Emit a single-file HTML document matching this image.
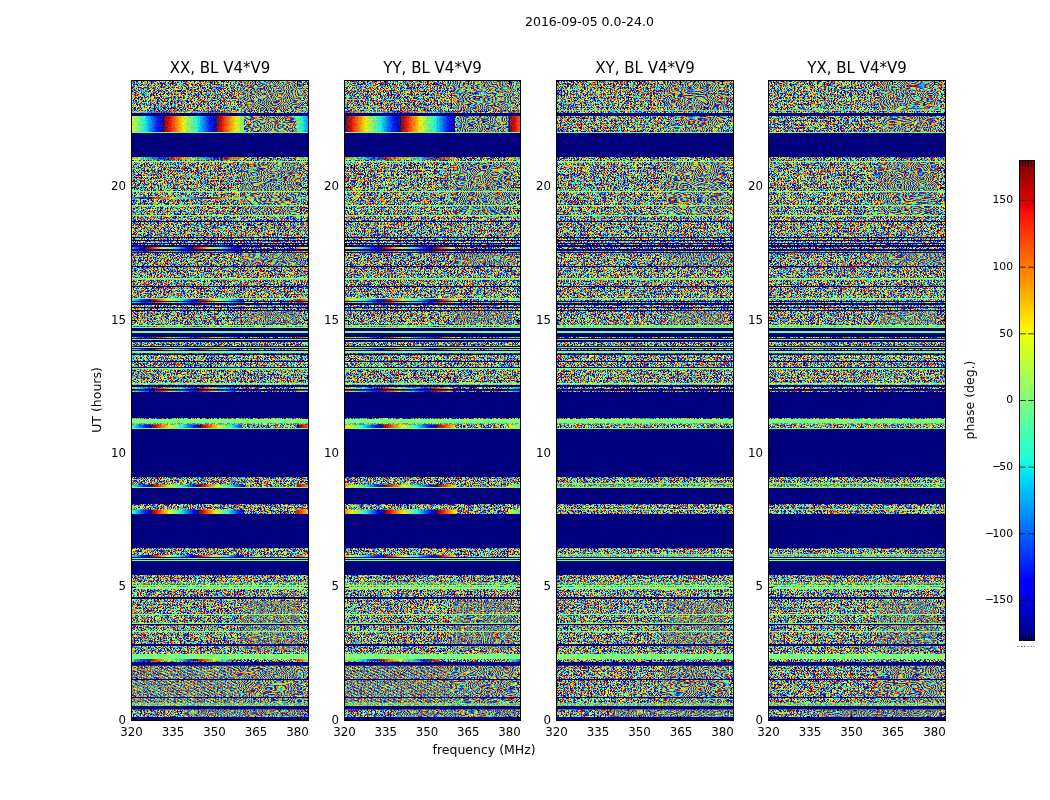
<!DOCTYPE html>
<html><head><meta charset="utf-8"><title>2016-09-05 0.0-24.0</title>
<style>html,body{margin:0;padding:0;background:#fff}svg{display:block;will-change:transform}text{font-family:"DejaVu Sans","Liberation Sans",sans-serif;fill:#000;letter-spacing:0}</style></head>
<body>
<svg width="1050" height="800" viewBox="0 0 1050 800">
<defs>
<filter id="n" x="0" y="0" width="100%" height="100%" filterUnits="objectBoundingBox" color-interpolation-filters="sRGB">
<feTurbulence type="fractalNoise" baseFrequency="1.7" numOctaves="1" seed="3"/>
<feColorMatrix type="matrix" values="1 0 0 0 0 1 0 0 0 0 1 0 0 0 0 0 0 0 0 1"/>
<feComponentTransfer>
<feFuncR type="table" tableValues="0 0 0 0 0 0 0 0 0 0 0 0 0 0 0 0 0 0 0 0 0 0 0 0 0 0 0 0 0 0 0 0 0 0 0 0 0 0 0 0 0 0 0 0 0 0 0 0 0 0 0 0 0 0 0 0 0 0 0 0 0 0 0 0 0 0 0 0 0 0 0 0 0 0 0 0 0 0 0 0 0 0 0 0 0 0 0 0 0 0 0 0 0 0 0 0 0 0 0 0 0 0 0 0 0 0 0 0 0 0 0 0 0 0 0 0 0 0 0.035 0.073 0.111 0.161 0.199 0.237 0.288 0.326 0.364 0.402 0.503 0.617 0.655 0.693 0.743 0.781 0.819 0.87 0.908 0.946 0.984 1 1 1 1 1 1 1 1 1 1 1 1 1 1 1 1 1 1 1 1 1 1 1 0.981 0.946 0.928 0.91 0.874 0.857 0.839 0.821 0.803 0.785 0.75 0.732 0.714 0.696 0.678 0.66 0.643 0.625 0.607 0.589 0.589 0.571 0.553 0.553 0.536 0.536 0.536 0.518 0.518 0.518 0.518 0.5 0.5 0.5 0.5 0.5 0.5 0.5 0.5 0.5 0.5 0.5 0.5 0.5 0.5 0.5 0.5 0.5 0.5 0.5 0.5 0.5 0.5 0.5 0.5 0.5 0.5 0.5 0.5 0.5 0.5 0.5 0.5 0.5 0.5 0.5 0.5 0.5 0.5 0.5 0.5 0.5 0.5 0.5 0.5 0.5 0.5 0.5 0.5 0.5 0.5 0.5 0.5 0.5 0.5 0.5 0.5 0.5 0.5 0.5 0.5 0.5 0.5 0.5"/>
<feFuncG type="table" tableValues="0 0 0 0 0 0 0 0 0 0 0 0 0 0 0 0 0 0 0 0 0 0 0 0 0 0 0 0 0 0 0 0 0 0 0 0 0 0 0 0 0 0 0 0 0 0 0 0 0 0 0 0 0 0 0 0 0 0 0 0 0 0 0 0 0 0 0 0 0 0 0 0 0 0 0 0 0 0 0 0 0 0 0 0 0 0 0 0 0 0 0 0 0 0 0 0 0.002 0.033 0.065 0.096 0.143 0.175 0.222 0.253 0.3 0.331 0.378 0.41 0.457 0.504 0.535 0.582 0.645 0.676 0.739 0.786 0.849 0.896 0.943 0.99 1 1 1 1 1 1 1 1 1 1 1 1 1 1 1 1 1 0.988 0.945 0.887 0.843 0.8 0.741 0.698 0.669 0.625 0.582 0.553 0.509 0.466 0.436 0.407 0.364 0.335 0.291 0.262 0.233 0.19 0.16 0.131 0.102 0.088 0.059 0.03 0.015 0.001 0 0 0 0 0 0 0 0 0 0 0 0 0 0 0 0 0 0 0 0 0 0 0 0 0 0 0 0 0 0 0 0 0 0 0 0 0 0 0 0 0 0 0 0 0 0 0 0 0 0 0 0 0 0 0 0 0 0 0 0 0 0 0 0 0 0 0 0 0 0 0 0 0 0 0 0 0 0 0 0 0 0 0 0 0 0 0 0 0 0"/>
<feFuncB type="table" tableValues="0.5 0.5 0.5 0.5 0.5 0.5 0.5 0.5 0.5 0.5 0.5 0.5 0.5 0.5 0.5 0.5 0.5 0.5 0.5 0.5 0.5 0.5 0.5 0.5 0.5 0.5 0.5 0.5 0.5 0.5 0.5 0.5 0.5 0.5 0.5 0.5 0.5 0.5 0.5 0.5 0.5 0.5 0.5 0.5 0.5 0.5 0.5 0.5 0.5 0.5 0.5 0.5 0.5 0.5 0.5 0.5 0.5 0.5 0.5 0.5 0.5 0.5 0.5 0.5 0.518 0.518 0.518 0.518 0.536 0.536 0.553 0.553 0.571 0.571 0.589 0.607 0.607 0.625 0.643 0.66 0.678 0.696 0.714 0.732 0.767 0.785 0.803 0.821 0.857 0.874 0.892 0.928 0.963 0.981 0.999 1 1 1 1 1 1 1 1 1 1 1 1 1 1 1 1 1 1 1 1 1 1 0.971 0.933 0.895 0.857 0.806 0.769 0.731 0.68 0.642 0.604 0.566 0.465 0.351 0.313 0.275 0.225 0.187 0.149 0.098 0.06 0.022 0 0 0 0 0 0 0 0 0 0 0 0 0 0 0 0 0 0 0 0 0 0 0 0 0 0 0 0 0 0 0 0 0 0 0 0 0 0 0 0 0 0 0 0 0 0 0 0 0 0 0 0 0 0 0 0 0 0 0 0 0 0 0 0 0 0 0 0 0 0 0 0 0 0 0 0 0 0 0 0 0 0 0 0 0 0 0 0 0 0 0 0 0 0 0 0 0 0 0 0 0 0 0 0 0 0 0 0 0 0 0 0 0 0 0 0 0 0"/>
</feComponentTransfer>
</filter>
<filter id="mo" x="0" y="0" width="100%" height="100%" color-interpolation-filters="sRGB">
<feTurbulence type="fractalNoise" baseFrequency="0.045 0.09" numOctaves="1" seed="5"/>
<feColorMatrix type="matrix" values="1 0 0 0 0 1 0 0 0 0 1 0 0 0 0 0 0 0 0 1"/>
<feComponentTransfer>
<feFuncR type="table" tableValues="0 0 0 0 0.29 0.64 1 1 1 0.55 0 0 0 0.24 0.59 0.95 1 1 0.62 0 0 0 0.19 0.54 0.9 1 1 0.7 0 0 0 0.14 0.49 0.84 1 1 0.77 0 0 0 0.09 0.44 0.79 1 1 0.84 0 0 0 0.03 0.39 0.74 1 1 0.91 0 0 0 0 0.34 0.69 1 1 0.98 0 0 0 0 0.29 0.64 1 1 1 0.55 0 0 0 0.24 0.59 0.95 1 1 0.62 0 0 0 0.19 0.54 0.9 1 1 0.7 0 0 0 0.14 0.49 0.84 1 1 0.77 0 0 0 0.09 0.44 0.79 1 1 0.84 0 0 0 0.03 0.39 0.74 1 1 0.91 0 0 0 0 0.34 0.69 1 1 0.98 0 0 0 0 0.29 0.64 1 1 1 0.55 0 0 0 0.24 0.59 0.95 1 1 0.62 0 0 0 0.19 0.54 0.9 1 1 0.7 0 0 0 0.14 0.49 0.84 1 1 0.77 0 0 0 0.09 0.44 0.79 1 1 0.84 0 0 0 0.03 0.39 0.74 1 1 0.91 0 0 0 0 0.34 0.69 1 1 0.98 0 0 0 0 0.29 0.64 1 1 1 0.55 0 0 0 0.24 0.59 0.95 1 1 0.62 0 0 0 0.19 0.54 0.9 1 1 0.7 0 0 0 0.14 0.49 0.84 1 1 0.77 0 0 0 0.09 0.44 0.79 1 1 0.84 0 0 0 0.03 0.39 0.74 1 1 0.91 0 0 0 0 0.34 0.69 1 1 0.98"/>
<feFuncG type="table" tableValues="0 0 0.38 0.82 1 1 0.93 0.52 0.12 0 0 0.32 0.75 1 1 0.99 0.58 0.18 0 0 0.25 0.69 1 1 1 0.64 0.23 0 0 0.19 0.63 1 1 1 0.7 0.29 0 0 0.13 0.57 1 1 1 0.76 0.35 0 0 0.06 0.5 0.94 1 1 0.81 0.41 0 0 0 0.44 0.88 1 1 0.87 0.47 0.06 0 0 0.38 0.82 1 1 0.93 0.52 0.12 0 0 0.32 0.75 1 1 0.99 0.58 0.18 0 0 0.25 0.69 1 1 1 0.64 0.23 0 0 0.19 0.63 1 1 1 0.7 0.29 0 0 0.13 0.57 1 1 1 0.76 0.35 0 0 0.06 0.5 0.94 1 1 0.81 0.41 0 0 0 0.44 0.88 1 1 0.87 0.47 0.06 0 0 0.38 0.82 1 1 0.93 0.52 0.12 0 0 0.32 0.75 1 1 0.99 0.58 0.18 0 0 0.25 0.69 1 1 1 0.64 0.23 0 0 0.19 0.63 1 1 1 0.7 0.29 0 0 0.13 0.57 1 1 1 0.76 0.35 0 0 0.06 0.5 0.94 1 1 0.81 0.41 0 0 0 0.44 0.88 1 1 0.87 0.47 0.06 0 0 0.38 0.82 1 1 0.93 0.52 0.12 0 0 0.32 0.75 1 1 0.99 0.58 0.18 0 0 0.25 0.69 1 1 1 0.64 0.23 0 0 0.19 0.63 1 1 1 0.7 0.29 0 0 0.13 0.57 1 1 1 0.76 0.35 0 0 0.06 0.5 0.94 1 1 0.81 0.41 0 0 0 0.44 0.88 1 1 0.87 0.47 0.06"/>
<feFuncB type="table" tableValues="0.5 1 1 1 0.68 0.33 0 0 0 0 0.93 1 1 0.73 0.38 0.02 0 0 0 0.86 1 1 0.78 0.43 0.07 0 0 0 0.79 1 1 0.83 0.48 0.12 0 0 0 0.71 1 1 0.88 0.53 0.17 0 0 0 0.64 1 1 0.93 0.58 0.22 0 0 0 0.57 1 1 0.98 0.63 0.28 0 0 0 0.5 1 1 1 0.68 0.33 0 0 0 0 0.93 1 1 0.73 0.38 0.02 0 0 0 0.86 1 1 0.78 0.43 0.07 0 0 0 0.79 1 1 0.83 0.48 0.12 0 0 0 0.71 1 1 0.88 0.53 0.17 0 0 0 0.64 1 1 0.93 0.58 0.22 0 0 0 0.57 1 1 0.98 0.63 0.28 0 0 0 0.5 1 1 1 0.68 0.33 0 0 0 0 0.93 1 1 0.73 0.38 0.02 0 0 0 0.86 1 1 0.78 0.43 0.07 0 0 0 0.79 1 1 0.83 0.48 0.12 0 0 0 0.71 1 1 0.88 0.53 0.17 0 0 0 0.64 1 1 0.93 0.58 0.22 0 0 0 0.57 1 1 0.98 0.63 0.28 0 0 0 0.5 1 1 1 0.68 0.33 0 0 0 0 0.93 1 1 0.73 0.38 0.02 0 0 0 0.86 1 1 0.78 0.43 0.07 0 0 0 0.79 1 1 0.83 0.48 0.12 0 0 0 0.71 1 1 0.88 0.53 0.17 0 0 0 0.64 1 1 0.93 0.58 0.22 0 0 0 0.57 1 1 0.98 0.63 0.28 0 0 0"/>
</feComponentTransfer>
</filter>
<linearGradient id="dg" gradientUnits="userSpaceOnUse" spreadMethod="repeat" x1="0" y1="0" x2="1.2" y2="-2.6" href="#fr"/>
<linearGradient id="cb" x1="0" y1="1" x2="0" y2="0"><stop offset="0.0000" stop-color="#000080"/><stop offset="0.0156" stop-color="#000092"/><stop offset="0.0312" stop-color="#0000a4"/><stop offset="0.0469" stop-color="#0000b6"/><stop offset="0.0625" stop-color="#0000c8"/><stop offset="0.0781" stop-color="#0000da"/><stop offset="0.0938" stop-color="#0000ed"/><stop offset="0.1094" stop-color="#0000ff"/><stop offset="0.1250" stop-color="#0000ff"/><stop offset="0.1406" stop-color="#0010ff"/><stop offset="0.1562" stop-color="#0020ff"/><stop offset="0.1719" stop-color="#0030ff"/><stop offset="0.1875" stop-color="#0040ff"/><stop offset="0.2031" stop-color="#0050ff"/><stop offset="0.2188" stop-color="#0060ff"/><stop offset="0.2344" stop-color="#0070ff"/><stop offset="0.2500" stop-color="#0080ff"/><stop offset="0.2656" stop-color="#0090ff"/><stop offset="0.2812" stop-color="#00a0ff"/><stop offset="0.2969" stop-color="#00b0ff"/><stop offset="0.3125" stop-color="#00c0ff"/><stop offset="0.3281" stop-color="#00d0ff"/><stop offset="0.3438" stop-color="#00e0fb"/><stop offset="0.3594" stop-color="#09f0ee"/><stop offset="0.3750" stop-color="#16ffe1"/><stop offset="0.3906" stop-color="#23ffd4"/><stop offset="0.4062" stop-color="#30ffc7"/><stop offset="0.4219" stop-color="#3cffba"/><stop offset="0.4375" stop-color="#49ffad"/><stop offset="0.4531" stop-color="#56ffa0"/><stop offset="0.4688" stop-color="#63ff94"/><stop offset="0.4844" stop-color="#70ff87"/><stop offset="0.5000" stop-color="#7dff7a"/><stop offset="0.5156" stop-color="#8aff6d"/><stop offset="0.5312" stop-color="#97ff60"/><stop offset="0.5469" stop-color="#a4ff53"/><stop offset="0.5625" stop-color="#b1ff46"/><stop offset="0.5781" stop-color="#beff39"/><stop offset="0.5938" stop-color="#caff2c"/><stop offset="0.6094" stop-color="#d7ff1f"/><stop offset="0.6250" stop-color="#e4ff13"/><stop offset="0.6406" stop-color="#f1fc06"/><stop offset="0.6562" stop-color="#feed00"/><stop offset="0.6719" stop-color="#ffde00"/><stop offset="0.6875" stop-color="#ffd000"/><stop offset="0.7031" stop-color="#ffc100"/><stop offset="0.7188" stop-color="#ffb200"/><stop offset="0.7344" stop-color="#ffa300"/><stop offset="0.7500" stop-color="#ff9400"/><stop offset="0.7656" stop-color="#ff8600"/><stop offset="0.7812" stop-color="#ff7700"/><stop offset="0.7969" stop-color="#ff6800"/><stop offset="0.8125" stop-color="#ff5900"/><stop offset="0.8281" stop-color="#ff4a00"/><stop offset="0.8438" stop-color="#ff3b00"/><stop offset="0.8594" stop-color="#ff2d00"/><stop offset="0.8750" stop-color="#ff1e00"/><stop offset="0.8906" stop-color="#fa0f00"/><stop offset="0.9062" stop-color="#e80000"/><stop offset="0.9219" stop-color="#d60000"/><stop offset="0.9375" stop-color="#c40000"/><stop offset="0.9531" stop-color="#b20000"/><stop offset="0.9688" stop-color="#9f0000"/><stop offset="0.9844" stop-color="#8d0000"/><stop offset="1.0000" stop-color="#800000"/></linearGradient>
<linearGradient id="fr" gradientUnits="userSpaceOnUse" spreadMethod="repeat" x1="0" x2="50"><stop offset="0.0000" stop-color="#800000"/><stop offset="0.0312" stop-color="#9f0000"/><stop offset="0.0625" stop-color="#c40000"/><stop offset="0.0938" stop-color="#e80000"/><stop offset="0.1250" stop-color="#ff1e00"/><stop offset="0.1562" stop-color="#ff3b00"/><stop offset="0.1875" stop-color="#ff5900"/><stop offset="0.2188" stop-color="#ff7700"/><stop offset="0.2500" stop-color="#ff9400"/><stop offset="0.2812" stop-color="#ffb200"/><stop offset="0.3125" stop-color="#ffd000"/><stop offset="0.3438" stop-color="#feed00"/><stop offset="0.3750" stop-color="#e4ff13"/><stop offset="0.4062" stop-color="#caff2c"/><stop offset="0.4375" stop-color="#b1ff46"/><stop offset="0.4688" stop-color="#97ff60"/><stop offset="0.5000" stop-color="#7dff7a"/><stop offset="0.5312" stop-color="#63ff94"/><stop offset="0.5625" stop-color="#49ffad"/><stop offset="0.5938" stop-color="#30ffc7"/><stop offset="0.6250" stop-color="#16ffe1"/><stop offset="0.6562" stop-color="#00e0fb"/><stop offset="0.6875" stop-color="#00c0ff"/><stop offset="0.7188" stop-color="#00a0ff"/><stop offset="0.7500" stop-color="#0080ff"/><stop offset="0.7812" stop-color="#0060ff"/><stop offset="0.8125" stop-color="#0040ff"/><stop offset="0.8438" stop-color="#0020ff"/><stop offset="0.8750" stop-color="#0000ff"/><stop offset="0.9062" stop-color="#0000ed"/><stop offset="0.9375" stop-color="#0000c8"/><stop offset="0.9688" stop-color="#0000a4"/><stop offset="1.0000" stop-color="#000080"/></linearGradient>
<linearGradient id="f0_0" href="#fr" x1="164" x2="217"/><linearGradient id="f0_1" href="#fr" x1="164.5" x2="217"/><linearGradient id="f0_2" href="#fr" x1="169" x2="223"/><linearGradient id="f0_3" href="#fr" x1="150" x2="210"/><linearGradient id="f0_4" href="#fr" x1="146" x2="193"/><linearGradient id="f0_5" href="#fr" x1="146" x2="193"/><linearGradient id="f0_6" href="#fr" x1="151" x2="199"/><linearGradient id="f0_7" href="#fr" x1="151" x2="199"/><linearGradient id="f0_8" href="#fr" x1="151" x2="199"/><linearGradient id="f0_9" href="#fr" x1="152" x2="199"/><linearGradient id="f0_10" href="#fr" x1="152" x2="198"/><linearGradient id="f0_11" href="#fr" x1="155" x2="198"/><linearGradient id="f0_12" href="#fr" x1="155" x2="198"/><linearGradient id="f0_13" href="#fr" x1="152" x2="201"/><linearGradient id="f0_14" href="#fr" x1="152" x2="200"/><linearGradient id="f0_15" href="#fr" x1="152" x2="199"/><linearGradient id="f0_16" href="#fr" x1="150" x2="197"/><linearGradient id="f0_17" href="#fr" x1="150" x2="197"/><linearGradient id="f1_0" href="#fr" x1="401" x2="455.5"/><linearGradient id="f1_1" href="#fr" x1="401" x2="455.5"/><linearGradient id="f1_2" href="#fr" x1="383" x2="437"/><linearGradient id="f1_3" href="#fr" x1="381" x2="433"/><linearGradient id="f1_4" href="#fr" x1="381" x2="433"/><linearGradient id="f1_5" href="#fr" x1="385" x2="437"/><linearGradient id="f1_6" href="#fr" x1="385" x2="437"/><linearGradient id="f1_7" href="#fr" x1="385" x2="437"/><linearGradient id="f1_8" href="#fr" x1="384" x2="436"/><linearGradient id="f1_9" href="#fr" x1="384" x2="437"/><linearGradient id="f1_10" href="#fr" x1="381" x2="431"/><linearGradient id="f1_11" href="#fr" x1="381" x2="431"/><linearGradient id="f1_12" href="#fr" x1="383" x2="437"/><linearGradient id="f1_13" href="#fr" x1="385" x2="437"/><linearGradient id="f1_14" href="#fr" x1="385" x2="437"/><linearGradient id="f1_15" href="#fr" x1="384" x2="437"/><linearGradient id="f1_16" href="#fr" x1="380" x2="430"/>
</defs>
<rect width="1050" height="800" fill="#fff"/>
<g>
<rect x="131.5" y="80.5" width="177" height="640" fill="#778577" filter="url(#n)"/>
<rect x="241.24" y="81" width="60.18" height="29" fill="#778577" filter="url(#mo)" opacity="0.8"/><rect x="244.78" y="116" width="51.33" height="16" fill="#778577" filter="url(#mo)" opacity="0.8"/><rect x="241.24" y="162" width="58.41" height="53" fill="#778577" filter="url(#mo)" opacity="0.8"/><rect x="241.24" y="253" width="61.95" height="12" fill="#778577" filter="url(#mo)" opacity="0.7"/><rect x="243.01" y="311" width="56.64" height="13" fill="#778577" filter="url(#mo)" opacity="0.55"/><rect x="241.24" y="601" width="58.41" height="49" fill="#778577" filter="url(#mo)" opacity="0.5"/><rect x="237.7" y="666" width="65.49" height="38" fill="#778577" filter="url(#mo)" opacity="0.8"/><rect x="184.6" y="710" width="118.59" height="7" fill="#778577" filter="url(#mo)" opacity="0.6"/><rect x="131.5" y="666" width="106.2" height="38" fill="url(#dg)" fill-opacity=".35"/>
<rect x="131.5" y="113" width="177" height="3" fill="#00007f"/><rect x="131.5" y="132" width="177" height="1" fill="#7cff79"/><rect x="131.5" y="133" width="177" height="24" fill="#00007f"/><rect x="131.5" y="161" width="177" height="1" fill="#7cff79"/><rect x="131.5" y="191" width="177" height="1" fill="#7cff79"/><rect x="131.5" y="205" width="177" height="1" fill="#7cff79"/><rect x="131.5" y="215" width="177" height="1" fill="#7cff79"/><rect x="131.5" y="221" width="177" height="1" fill="#00007f"/><rect x="131.5" y="237" width="177" height="1" fill="#00007f"/><rect x="131.5" y="240" width="177" height="1" fill="#00007f"/><rect x="131.5" y="243" width="177" height="1" fill="#00007f"/><rect x="131.5" y="245" width="177" height="2" fill="#00007f"/><rect x="131.5" y="249" width="177" height="2" fill="#00007f"/><rect x="131.5" y="252" width="177" height="1" fill="#00007f" fill-opacity="0.85"/><rect x="131.5" y="266" width="177" height="1" fill="#00007f"/><rect x="131.5" y="278" width="177" height="1" fill="#7cff79"/><rect x="131.5" y="279" width="177" height="1" fill="#7cff79" fill-opacity="0.65"/><rect x="131.5" y="286" width="177" height="1" fill="#00007f"/><rect x="131.5" y="298" width="177" height="1" fill="#7cff79"/><rect x="131.5" y="301" width="177" height="1" fill="#00007f"/><rect x="131.5" y="303" width="177" height="2" fill="#00007f"/><rect x="131.5" y="307" width="177" height="1" fill="#00007f"/><rect x="131.5" y="310" width="177" height="1" fill="#00007f"/><rect x="131.5" y="325" width="177" height="1" fill="#7cff79"/><rect x="131.5" y="327" width="177" height="1" fill="#7cff79"/><rect x="131.5" y="328" width="177" height="3" fill="#00007f"/><rect x="131.5" y="331" width="177" height="2" fill="#7cff79"/><rect x="131.5" y="333" width="177" height="4" fill="#00007f"/><rect x="131.5" y="338" width="177" height="1" fill="#00007f"/><rect x="131.5" y="339" width="177" height="1" fill="#7cff79"/><rect x="131.5" y="340" width="177" height="2" fill="#00007f"/><rect x="131.5" y="346" width="177" height="1" fill="#00007f"/><rect x="131.5" y="347" width="177" height="1" fill="#7cff79"/><rect x="131.5" y="348" width="177" height="1" fill="#00007f"/><rect x="131.5" y="350" width="177" height="1" fill="#00007f"/><rect x="131.5" y="351" width="177" height="2" fill="#7cff79"/><rect x="131.5" y="353" width="177" height="1" fill="#00007f" fill-opacity="0.5"/><rect x="131.5" y="354" width="177" height="1" fill="#00007f"/><rect x="131.5" y="361" width="177" height="1" fill="#00007f"/><rect x="131.5" y="367" width="177" height="1" fill="#00007f"/><rect x="131.5" y="368" width="177" height="1.3" fill="#7cff79"/><rect x="131.5" y="383" width="177" height="1" fill="#7cff79"/><rect x="131.5" y="384" width="177" height="1" fill="#7cff79" fill-opacity="0.6"/><rect x="131.5" y="385" width="177" height="2" fill="#00007f"/><rect x="131.5" y="389" width="177" height="1.8" fill="#00007f"/><rect x="131.5" y="392" width="177" height="26" fill="#00007f"/><rect x="131.5" y="419" width="177" height="4" fill="#7cff79"/><rect x="131.5" y="423" width="177" height="1.5" fill="#7cff79" fill-opacity="0.5"/><rect x="131.5" y="428" width="177" height="1" fill="#7cff79"/><rect x="131.5" y="429" width="177" height="48" fill="#00007f"/><rect x="131.5" y="487" width="177" height="1" fill="#7cff79"/><rect x="131.5" y="488" width="177" height="16" fill="#00007f"/><rect x="131.5" y="514" width="177" height="34" fill="#00007f"/><rect x="131.5" y="557" width="177" height="1" fill="#00007f"/><rect x="131.5" y="558" width="177" height="1" fill="#7cff79"/><rect x="131.5" y="559" width="177" height="1" fill="#00007f"/><rect x="131.5" y="560" width="177" height="1" fill="#7cff79"/><rect x="131.5" y="561" width="177" height="14" fill="#00007f"/><rect x="131.5" y="582.5" width="177" height="1" fill="#7cff79" fill-opacity="0.7"/><rect x="131.5" y="584" width="177" height="1" fill="#7cff79" fill-opacity="0.3"/><rect x="131.5" y="585" width="177" height="1" fill="#7cff79"/><rect x="131.5" y="586" width="177" height="1" fill="#7cff79" fill-opacity="0.35"/><rect x="131.5" y="587" width="177" height="2" fill="#7cff79"/><rect x="131.5" y="597" width="177" height="2" fill="#00007f"/><rect x="131.5" y="614" width="177" height="1" fill="#7cff79"/><rect x="131.5" y="623" width="177" height="1" fill="#7cff79"/><rect x="131.5" y="624" width="177" height="1.2" fill="#00007f"/><rect x="131.5" y="631" width="177" height="1" fill="#7cff79"/><rect x="131.5" y="644" width="177" height="2" fill="#00007f"/><rect x="131.5" y="654" width="177" height="5" fill="#7cff79"/><rect x="131.5" y="662" width="177" height="3.7" fill="#00007f"/><rect x="131.5" y="679" width="177" height="1" fill="#00007f"/><rect x="131.5" y="697" width="177" height="1" fill="#00007f"/><rect x="131.5" y="703" width="177" height="3" fill="#7cff79" fill-opacity="0.6"/><rect x="131.5" y="706" width="177" height="3.5" fill="#00007f"/><rect x="131.5" y="717" width="177" height="3.5" fill="#00007f"/>
<path d="M131.5 111H244V113H131.5zM296.5 111H308.5V113H296.5z" fill="url(#f0_0)" fill-opacity="0.45"/><path d="M131.5 116H244V132H131.5zM296.5 116H308.5V132H296.5z" fill="url(#f0_1)" fill-opacity="0.88"/><path d="M131.5 157H244V160H131.5zM296.5 157H308.5V160H296.5z" fill="url(#f0_2)" fill-opacity="0.55"/><path d="M131.5 197H244V199H131.5zM296.5 197H308.5V199H296.5z" fill="url(#f0_3)" fill-opacity="0.7"/><path d="M131.5 247H240V249H131.5zM296.5 247H308.5V249H296.5z" fill="url(#f0_4)" fill-opacity="0.9"/><path d="M131.5 251H240V252H131.5zM296.5 251H308.5V252H296.5z" fill="url(#f0_5)" fill-opacity="0.6"/><path d="M131.5 299H244V301H131.5zM296.5 299H308.5V301H296.5z" fill="url(#f0_6)" fill-opacity="0.9"/><path d="M131.5 302H244V303H131.5zM296.5 302H308.5V303H296.5z" fill="url(#f0_7)" fill-opacity="0.7"/><path d="M131.5 326H240V327H131.5zM296.5 326H308.5V327H296.5z" fill="url(#f0_8)" fill-opacity="0.35"/><path d="M131.5 337H240V338H131.5zM296.5 337H308.5V338H296.5z" fill="url(#f0_9)" fill-opacity="0.7"/><path d="M131.5 349H240V350H131.5zM296.5 349H308.5V350H296.5z" fill="url(#f0_10)" fill-opacity="0.85"/><path d="M131.5 387.4H235V389H131.5zM296.5 387.4H308.5V389H296.5z" fill="url(#f0_11)" fill-opacity="0.8"/><path d="M131.5 390.8H235V392H131.5zM296.5 390.8H308.5V392H296.5z" fill="url(#f0_12)" fill-opacity="0.8"/><path d="M131.5 424.5H242V428H131.5zM296.5 424.5H308.5V428H296.5z" fill="url(#f0_13)" fill-opacity="0.9"/><path d="M131.5 484.5H244V487H131.5zM296.5 484.5H308.5V487H296.5z" fill="url(#f0_14)" fill-opacity="0.9"/><path d="M131.5 509.5H244V514H131.5zM296.5 509.5H308.5V514H296.5z" fill="url(#f0_15)" fill-opacity="0.92"/><path d="M131.5 555H244V557H131.5zM296.5 555H308.5V557H296.5z" fill="url(#f0_16)" fill-opacity="0.9"/><path d="M131.5 659H230V661.6H131.5zM296.5 659H308.5V661.6H296.5z" fill="url(#f0_17)" fill-opacity="0.75"/>
<rect x="131.5" y="80.5" width="177" height="640" fill="none" stroke="#000" stroke-width="1"/>
<path d="M131.5 720.5v-4.5M131.5 80.5v4.5M172.5 720.5v-4.5M172.5 80.5v4.5M214.5 720.5v-4.5M214.5 80.5v4.5M255.5 720.5v-4.5M255.5 80.5v4.5M297.5 720.5v-4.5M297.5 80.5v4.5M131.5 720.5h4.5M308.5 720.5h-4.5M131.5 587.5h4.5M308.5 587.5h-4.5M131.5 453.5h4.5M308.5 453.5h-4.5M131.5 320.5h4.5M308.5 320.5h-4.5M131.5 187.5h4.5M308.5 187.5h-4.5" stroke="#000" stroke-width="1" fill="none"/>
<text x="131.5" y="736" font-size="11.8" text-anchor="middle">320</text><text x="172.98" y="736" font-size="11.8" text-anchor="middle">335</text><text x="214.47" y="736" font-size="11.8" text-anchor="middle">350</text><text x="255.95" y="736" font-size="11.8" text-anchor="middle">365</text><text x="297.44" y="736" font-size="11.8" text-anchor="middle">380</text><text x="126" y="723.8" font-size="11.8" text-anchor="end">0</text><text x="126" y="590.47" font-size="11.8" text-anchor="end">5</text><text x="126" y="457.13" font-size="11.8" text-anchor="end">10</text><text x="126" y="323.8" font-size="11.8" text-anchor="end">15</text><text x="126" y="190.47" font-size="11.8" text-anchor="end">20</text>
<text x="220" y="72.6" font-size="15" text-anchor="middle">XX, BL V4*V9</text>
</g>
<g>
<rect x="344.5" y="80.5" width="176" height="640" fill="#778577" filter="url(#n)"/>
<rect x="453.62" y="81" width="59.84" height="29" fill="#778577" filter="url(#mo)" opacity="0.8"/><rect x="457.14" y="116" width="51.04" height="16" fill="#778577" filter="url(#mo)" opacity="0.8"/><rect x="453.62" y="162" width="58.08" height="53" fill="#778577" filter="url(#mo)" opacity="0.8"/><rect x="453.62" y="253" width="61.6" height="12" fill="#778577" filter="url(#mo)" opacity="0.7"/><rect x="455.38" y="311" width="56.32" height="13" fill="#778577" filter="url(#mo)" opacity="0.55"/><rect x="453.62" y="601" width="58.08" height="49" fill="#778577" filter="url(#mo)" opacity="0.5"/><rect x="450.1" y="666" width="65.12" height="38" fill="#778577" filter="url(#mo)" opacity="0.8"/><rect x="397.3" y="710" width="117.92" height="7" fill="#778577" filter="url(#mo)" opacity="0.6"/><rect x="344.5" y="666" width="105.6" height="38" fill="url(#dg)" fill-opacity=".35"/>
<rect x="344.5" y="113" width="176" height="3" fill="#00007f"/><rect x="344.5" y="132" width="176" height="1" fill="#7cff79"/><rect x="344.5" y="133" width="176" height="24" fill="#00007f"/><rect x="344.5" y="161" width="176" height="1" fill="#7cff79"/><rect x="344.5" y="191" width="176" height="1" fill="#7cff79"/><rect x="344.5" y="205" width="176" height="1" fill="#7cff79"/><rect x="344.5" y="215" width="176" height="1" fill="#7cff79"/><rect x="344.5" y="221" width="176" height="1" fill="#00007f"/><rect x="344.5" y="237" width="176" height="1" fill="#00007f"/><rect x="344.5" y="240" width="176" height="1" fill="#00007f"/><rect x="344.5" y="243" width="176" height="1" fill="#00007f"/><rect x="344.5" y="245" width="176" height="2" fill="#00007f"/><rect x="344.5" y="249" width="176" height="2" fill="#00007f"/><rect x="344.5" y="252" width="176" height="1" fill="#00007f" fill-opacity="0.85"/><rect x="344.5" y="266" width="176" height="1" fill="#00007f"/><rect x="344.5" y="278" width="176" height="1" fill="#7cff79"/><rect x="344.5" y="279" width="176" height="1" fill="#7cff79" fill-opacity="0.65"/><rect x="344.5" y="286" width="176" height="1" fill="#00007f"/><rect x="344.5" y="298" width="176" height="1" fill="#7cff79"/><rect x="344.5" y="301" width="176" height="1" fill="#00007f"/><rect x="344.5" y="303" width="176" height="2" fill="#00007f"/><rect x="344.5" y="307" width="176" height="1" fill="#00007f"/><rect x="344.5" y="310" width="176" height="1" fill="#00007f"/><rect x="344.5" y="325" width="176" height="1" fill="#7cff79"/><rect x="344.5" y="327" width="176" height="1" fill="#7cff79"/><rect x="344.5" y="328" width="176" height="3" fill="#00007f"/><rect x="344.5" y="331" width="176" height="2" fill="#7cff79"/><rect x="344.5" y="333" width="176" height="4" fill="#00007f"/><rect x="344.5" y="338" width="176" height="1" fill="#00007f"/><rect x="344.5" y="339" width="176" height="1" fill="#7cff79"/><rect x="344.5" y="340" width="176" height="2" fill="#00007f"/><rect x="344.5" y="346" width="176" height="1" fill="#00007f"/><rect x="344.5" y="347" width="176" height="1" fill="#7cff79"/><rect x="344.5" y="348" width="176" height="1" fill="#00007f"/><rect x="344.5" y="350" width="176" height="1" fill="#00007f"/><rect x="344.5" y="351" width="176" height="2" fill="#7cff79"/><rect x="344.5" y="353" width="176" height="1" fill="#00007f" fill-opacity="0.5"/><rect x="344.5" y="354" width="176" height="1" fill="#00007f"/><rect x="344.5" y="361" width="176" height="1" fill="#00007f"/><rect x="344.5" y="367" width="176" height="1" fill="#00007f"/><rect x="344.5" y="368" width="176" height="1.3" fill="#7cff79"/><rect x="344.5" y="383" width="176" height="1" fill="#7cff79"/><rect x="344.5" y="384" width="176" height="1" fill="#7cff79" fill-opacity="0.6"/><rect x="344.5" y="385" width="176" height="2" fill="#00007f"/><rect x="344.5" y="389" width="176" height="1.8" fill="#00007f"/><rect x="344.5" y="392" width="176" height="26" fill="#00007f"/><rect x="344.5" y="419" width="176" height="4" fill="#7cff79"/><rect x="344.5" y="423" width="176" height="1.5" fill="#7cff79" fill-opacity="0.5"/><rect x="344.5" y="428" width="176" height="1" fill="#7cff79"/><rect x="344.5" y="429" width="176" height="48" fill="#00007f"/><rect x="344.5" y="487" width="176" height="1" fill="#7cff79"/><rect x="344.5" y="488" width="176" height="16" fill="#00007f"/><rect x="344.5" y="514" width="176" height="34" fill="#00007f"/><rect x="344.5" y="557" width="176" height="1" fill="#00007f"/><rect x="344.5" y="558" width="176" height="1" fill="#7cff79"/><rect x="344.5" y="559" width="176" height="1" fill="#00007f"/><rect x="344.5" y="560" width="176" height="1" fill="#7cff79"/><rect x="344.5" y="561" width="176" height="14" fill="#00007f"/><rect x="344.5" y="582.5" width="176" height="1" fill="#7cff79" fill-opacity="0.7"/><rect x="344.5" y="584" width="176" height="1" fill="#7cff79" fill-opacity="0.3"/><rect x="344.5" y="585" width="176" height="1" fill="#7cff79"/><rect x="344.5" y="586" width="176" height="1" fill="#7cff79" fill-opacity="0.35"/><rect x="344.5" y="587" width="176" height="2" fill="#7cff79"/><rect x="344.5" y="597" width="176" height="2" fill="#00007f"/><rect x="344.5" y="614" width="176" height="1" fill="#7cff79"/><rect x="344.5" y="623" width="176" height="1" fill="#7cff79"/><rect x="344.5" y="624" width="176" height="1.2" fill="#00007f"/><rect x="344.5" y="631" width="176" height="1" fill="#7cff79"/><rect x="344.5" y="644" width="176" height="2" fill="#00007f"/><rect x="344.5" y="654" width="176" height="5" fill="#7cff79"/><rect x="344.5" y="662" width="176" height="3.7" fill="#00007f"/><rect x="344.5" y="679" width="176" height="1" fill="#00007f"/><rect x="344.5" y="697" width="176" height="1" fill="#00007f"/><rect x="344.5" y="703" width="176" height="3" fill="#7cff79" fill-opacity="0.6"/><rect x="344.5" y="706" width="176" height="3.5" fill="#00007f"/><rect x="344.5" y="717" width="176" height="3.5" fill="#00007f"/>
<path d="M344.5 111H455V113H344.5zM508.5 111H520.5V113H508.5z" fill="url(#f1_0)" fill-opacity="0.45"/><path d="M344.5 116H455V132H344.5zM508.5 116H520.5V132H508.5z" fill="url(#f1_1)" fill-opacity="0.88"/><path d="M344.5 157H455V160H344.5zM508.5 157H520.5V160H508.5z" fill="url(#f1_2)" fill-opacity="0.55"/><path d="M344.5 247H455V249H344.5zM508.5 247H520.5V249H508.5z" fill="url(#f1_3)" fill-opacity="0.9"/><path d="M344.5 251H455V252H344.5zM508.5 251H520.5V252H508.5z" fill="url(#f1_4)" fill-opacity="0.6"/><path d="M344.5 299H458V301H344.5zM508.5 299H520.5V301H508.5z" fill="url(#f1_5)" fill-opacity="0.9"/><path d="M344.5 302H458V303H344.5zM508.5 302H520.5V303H508.5z" fill="url(#f1_6)" fill-opacity="0.7"/><path d="M344.5 326H455V327H344.5zM508.5 326H520.5V327H508.5z" fill="url(#f1_7)" fill-opacity="0.35"/><path d="M344.5 337H455V338H344.5zM508.5 337H520.5V338H508.5z" fill="url(#f1_8)" fill-opacity="0.7"/><path d="M344.5 349H455V350H344.5zM508.5 349H520.5V350H508.5z" fill="url(#f1_9)" fill-opacity="0.85"/><path d="M344.5 387.4H452V389H344.5zM508.5 387.4H520.5V389H508.5z" fill="url(#f1_10)" fill-opacity="0.8"/><path d="M344.5 390.8H452V392H344.5zM508.5 390.8H520.5V392H508.5z" fill="url(#f1_11)" fill-opacity="0.8"/><path d="M344.5 424.5H455V428H344.5zM508.5 424.5H520.5V428H508.5z" fill="url(#f1_12)" fill-opacity="0.9"/><path d="M344.5 484.5H456V487H344.5zM508.5 484.5H520.5V487H508.5z" fill="url(#f1_13)" fill-opacity="0.9"/><path d="M344.5 509.5H457V514H344.5zM508.5 509.5H520.5V514H508.5z" fill="url(#f1_14)" fill-opacity="0.92"/><path d="M344.5 555H456V557H344.5zM508.5 555H520.5V557H508.5z" fill="url(#f1_15)" fill-opacity="0.9"/><path d="M344.5 659H440V661.6H344.5zM508.5 659H520.5V661.6H508.5z" fill="url(#f1_16)" fill-opacity="0.75"/>
<rect x="344.5" y="80.5" width="176" height="640" fill="none" stroke="#000" stroke-width="1"/>
<path d="M344.5 720.5v-4.5M344.5 80.5v4.5M385.5 720.5v-4.5M385.5 80.5v4.5M427.5 720.5v-4.5M427.5 80.5v4.5M468.5 720.5v-4.5M468.5 80.5v4.5M509.5 720.5v-4.5M509.5 80.5v4.5M344.5 720.5h4.5M520.5 720.5h-4.5M344.5 587.5h4.5M520.5 587.5h-4.5M344.5 453.5h4.5M520.5 453.5h-4.5M344.5 320.5h4.5M520.5 320.5h-4.5M344.5 187.5h4.5M520.5 187.5h-4.5" stroke="#000" stroke-width="1" fill="none"/>
<text x="344.5" y="736" font-size="11.8" text-anchor="middle">320</text><text x="385.75" y="736" font-size="11.8" text-anchor="middle">335</text><text x="427" y="736" font-size="11.8" text-anchor="middle">350</text><text x="468.25" y="736" font-size="11.8" text-anchor="middle">365</text><text x="509.5" y="736" font-size="11.8" text-anchor="middle">380</text><text x="339" y="723.8" font-size="11.8" text-anchor="end">0</text><text x="339" y="590.47" font-size="11.8" text-anchor="end">5</text><text x="339" y="457.13" font-size="11.8" text-anchor="end">10</text><text x="339" y="323.8" font-size="11.8" text-anchor="end">15</text><text x="339" y="190.47" font-size="11.8" text-anchor="end">20</text>
<text x="432.5" y="72.6" font-size="15" text-anchor="middle">YY, BL V4*V9</text>
</g>
<g>
<rect x="556.5" y="80.5" width="177" height="640" fill="#778577" filter="url(#n)"/>
<rect x="666.24" y="81" width="60.18" height="29" fill="#778577" filter="url(#mo)" opacity="0.8"/><rect x="669.78" y="116" width="51.33" height="16" fill="#778577" filter="url(#mo)" opacity="0.8"/><rect x="666.24" y="162" width="58.41" height="53" fill="#778577" filter="url(#mo)" opacity="0.8"/><rect x="666.24" y="253" width="61.95" height="12" fill="#778577" filter="url(#mo)" opacity="0.7"/><rect x="668.01" y="311" width="56.64" height="13" fill="#778577" filter="url(#mo)" opacity="0.55"/><rect x="666.24" y="601" width="58.41" height="49" fill="#778577" filter="url(#mo)" opacity="0.5"/><rect x="662.7" y="666" width="65.49" height="38" fill="#778577" filter="url(#mo)" opacity="0.8"/><rect x="609.6" y="710" width="118.59" height="7" fill="#778577" filter="url(#mo)" opacity="0.6"/>
<rect x="556.5" y="110" width="177" height="1" fill="#7cff79" fill-opacity="0.7"/><rect x="556.5" y="113" width="177" height="3" fill="#00007f"/><rect x="556.5" y="132" width="177" height="1" fill="#7cff79"/><rect x="556.5" y="133" width="177" height="24" fill="#00007f"/><rect x="556.5" y="161" width="177" height="1" fill="#7cff79"/><rect x="556.5" y="191" width="177" height="1" fill="#7cff79"/><rect x="556.5" y="205" width="177" height="1" fill="#7cff79"/><rect x="556.5" y="215" width="177" height="1" fill="#7cff79"/><rect x="556.5" y="221" width="177" height="1" fill="#00007f"/><rect x="556.5" y="237" width="177" height="1" fill="#00007f"/><rect x="556.5" y="240" width="177" height="1" fill="#00007f"/><rect x="556.5" y="243" width="177" height="1" fill="#00007f"/><rect x="556.5" y="245" width="177" height="2" fill="#00007f"/><rect x="556.5" y="249" width="177" height="2" fill="#00007f"/><rect x="556.5" y="251" width="177" height="1" fill="#7cff79" fill-opacity="0.4"/><rect x="556.5" y="252" width="177" height="1" fill="#00007f" fill-opacity="0.85"/><rect x="556.5" y="266" width="177" height="1" fill="#00007f"/><rect x="556.5" y="278" width="177" height="1" fill="#7cff79"/><rect x="556.5" y="279" width="177" height="1" fill="#7cff79" fill-opacity="0.65"/><rect x="556.5" y="286" width="177" height="1" fill="#00007f"/><rect x="556.5" y="298" width="177" height="1" fill="#7cff79"/><rect x="556.5" y="299" width="177" height="1" fill="#7cff79" fill-opacity="0.25"/><rect x="556.5" y="301" width="177" height="1" fill="#00007f"/><rect x="556.5" y="303" width="177" height="2" fill="#00007f"/><rect x="556.5" y="307" width="177" height="1" fill="#00007f"/><rect x="556.5" y="310" width="177" height="1" fill="#00007f"/><rect x="556.5" y="325" width="177" height="1" fill="#7cff79"/><rect x="556.5" y="326" width="177" height="1" fill="#7cff79" fill-opacity="0.6"/><rect x="556.5" y="327" width="177" height="1" fill="#7cff79"/><rect x="556.5" y="328" width="177" height="3" fill="#00007f"/><rect x="556.5" y="331" width="177" height="2" fill="#7cff79"/><rect x="556.5" y="333" width="177" height="4" fill="#00007f"/><rect x="556.5" y="338" width="177" height="1" fill="#00007f"/><rect x="556.5" y="339" width="177" height="1" fill="#7cff79"/><rect x="556.5" y="340" width="177" height="2" fill="#00007f"/><rect x="556.5" y="346" width="177" height="1" fill="#00007f"/><rect x="556.5" y="347" width="177" height="1" fill="#7cff79"/><rect x="556.5" y="348" width="177" height="1" fill="#00007f"/><rect x="556.5" y="350" width="177" height="1" fill="#00007f"/><rect x="556.5" y="351" width="177" height="2" fill="#7cff79"/><rect x="556.5" y="353" width="177" height="1" fill="#00007f" fill-opacity="0.5"/><rect x="556.5" y="354" width="177" height="1" fill="#00007f"/><rect x="556.5" y="361" width="177" height="1" fill="#00007f"/><rect x="556.5" y="367" width="177" height="1" fill="#00007f"/><rect x="556.5" y="368" width="177" height="1.3" fill="#7cff79"/><rect x="556.5" y="383" width="177" height="1" fill="#7cff79"/><rect x="556.5" y="384" width="177" height="1" fill="#7cff79" fill-opacity="0.6"/><rect x="556.5" y="385" width="177" height="2" fill="#00007f"/><rect x="556.5" y="389" width="177" height="1.8" fill="#00007f"/><rect x="556.5" y="392" width="177" height="26" fill="#00007f"/><rect x="556.5" y="419" width="177" height="4" fill="#7cff79"/><rect x="556.5" y="423" width="177" height="1.5" fill="#7cff79" fill-opacity="0.5"/><rect x="556.5" y="428" width="177" height="1" fill="#7cff79"/><rect x="556.5" y="429" width="177" height="48" fill="#00007f"/><rect x="556.5" y="483" width="177" height="1" fill="#7cff79" fill-opacity="0.85"/><rect x="556.5" y="484" width="177" height="3" fill="#7cff79" fill-opacity="0.3"/><rect x="556.5" y="487" width="177" height="1" fill="#7cff79"/><rect x="556.5" y="488" width="177" height="16" fill="#00007f"/><rect x="556.5" y="509" width="177" height="1" fill="#7cff79" fill-opacity="0.7"/><rect x="556.5" y="514" width="177" height="34" fill="#00007f"/><rect x="556.5" y="554" width="177" height="1" fill="#7cff79" fill-opacity="0.85"/><rect x="556.5" y="555" width="177" height="2" fill="#7cff79" fill-opacity="0.45"/><rect x="556.5" y="557" width="177" height="1" fill="#00007f"/><rect x="556.5" y="558" width="177" height="1" fill="#7cff79"/><rect x="556.5" y="559" width="177" height="1" fill="#00007f"/><rect x="556.5" y="560" width="177" height="1" fill="#7cff79"/><rect x="556.5" y="561" width="177" height="14" fill="#00007f"/><rect x="556.5" y="582.5" width="177" height="1" fill="#7cff79" fill-opacity="0.7"/><rect x="556.5" y="584" width="177" height="1" fill="#7cff79" fill-opacity="0.3"/><rect x="556.5" y="585" width="177" height="1" fill="#7cff79"/><rect x="556.5" y="586" width="177" height="1" fill="#7cff79" fill-opacity="0.35"/><rect x="556.5" y="587" width="177" height="2" fill="#7cff79"/><rect x="556.5" y="597" width="177" height="2" fill="#00007f"/><rect x="556.5" y="614" width="177" height="1" fill="#7cff79"/><rect x="556.5" y="623" width="177" height="1" fill="#7cff79"/><rect x="556.5" y="624" width="177" height="1.2" fill="#00007f"/><rect x="556.5" y="631" width="177" height="1" fill="#7cff79"/><rect x="556.5" y="644" width="177" height="2" fill="#00007f"/><rect x="556.5" y="654" width="177" height="5" fill="#7cff79"/><rect x="556.5" y="662" width="177" height="3.7" fill="#00007f"/><rect x="556.5" y="679" width="177" height="1" fill="#00007f"/><rect x="556.5" y="697" width="177" height="1" fill="#00007f"/><rect x="556.5" y="703" width="177" height="3" fill="#7cff79" fill-opacity="0.6"/><rect x="556.5" y="706" width="177" height="3.5" fill="#00007f"/><rect x="556.5" y="717" width="177" height="3.5" fill="#00007f"/>

<rect x="556.5" y="80.5" width="177" height="640" fill="none" stroke="#000" stroke-width="1"/>
<path d="M556.5 720.5v-4.5M556.5 80.5v4.5M597.5 720.5v-4.5M597.5 80.5v4.5M639.5 720.5v-4.5M639.5 80.5v4.5M680.5 720.5v-4.5M680.5 80.5v4.5M722.5 720.5v-4.5M722.5 80.5v4.5M556.5 720.5h4.5M733.5 720.5h-4.5M556.5 587.5h4.5M733.5 587.5h-4.5M556.5 453.5h4.5M733.5 453.5h-4.5M556.5 320.5h4.5M733.5 320.5h-4.5M556.5 187.5h4.5M733.5 187.5h-4.5" stroke="#000" stroke-width="1" fill="none"/>
<text x="556.5" y="736" font-size="11.8" text-anchor="middle">320</text><text x="597.98" y="736" font-size="11.8" text-anchor="middle">335</text><text x="639.47" y="736" font-size="11.8" text-anchor="middle">350</text><text x="680.95" y="736" font-size="11.8" text-anchor="middle">365</text><text x="722.44" y="736" font-size="11.8" text-anchor="middle">380</text><text x="551" y="723.8" font-size="11.8" text-anchor="end">0</text><text x="551" y="590.47" font-size="11.8" text-anchor="end">5</text><text x="551" y="457.13" font-size="11.8" text-anchor="end">10</text><text x="551" y="323.8" font-size="11.8" text-anchor="end">15</text><text x="551" y="190.47" font-size="11.8" text-anchor="end">20</text>
<text x="645" y="72.6" font-size="15" text-anchor="middle">XY, BL V4*V9</text>
</g>
<g>
<rect x="768.5" y="80.5" width="177" height="640" fill="#778577" filter="url(#n)"/>
<rect x="878.24" y="81" width="60.18" height="29" fill="#778577" filter="url(#mo)" opacity="0.8"/><rect x="881.78" y="116" width="51.33" height="16" fill="#778577" filter="url(#mo)" opacity="0.8"/><rect x="878.24" y="162" width="58.41" height="53" fill="#778577" filter="url(#mo)" opacity="0.8"/><rect x="878.24" y="253" width="61.95" height="12" fill="#778577" filter="url(#mo)" opacity="0.7"/><rect x="880.01" y="311" width="56.64" height="13" fill="#778577" filter="url(#mo)" opacity="0.55"/><rect x="878.24" y="601" width="58.41" height="49" fill="#778577" filter="url(#mo)" opacity="0.5"/><rect x="874.7" y="666" width="65.49" height="38" fill="#778577" filter="url(#mo)" opacity="0.8"/><rect x="821.6" y="710" width="118.59" height="7" fill="#778577" filter="url(#mo)" opacity="0.6"/>
<rect x="768.5" y="110" width="177" height="1" fill="#7cff79" fill-opacity="0.7"/><rect x="768.5" y="113" width="177" height="3" fill="#00007f"/><rect x="768.5" y="132" width="177" height="1" fill="#7cff79"/><rect x="768.5" y="133" width="177" height="24" fill="#00007f"/><rect x="768.5" y="161" width="177" height="1" fill="#7cff79"/><rect x="768.5" y="191" width="177" height="1" fill="#7cff79"/><rect x="768.5" y="205" width="177" height="1" fill="#7cff79"/><rect x="768.5" y="215" width="177" height="1" fill="#7cff79"/><rect x="768.5" y="221" width="177" height="1" fill="#00007f"/><rect x="768.5" y="237" width="177" height="1" fill="#00007f"/><rect x="768.5" y="240" width="177" height="1" fill="#00007f"/><rect x="768.5" y="243" width="177" height="1" fill="#00007f"/><rect x="768.5" y="245" width="177" height="2" fill="#00007f"/><rect x="768.5" y="249" width="177" height="2" fill="#00007f"/><rect x="768.5" y="251" width="177" height="1" fill="#7cff79" fill-opacity="0.4"/><rect x="768.5" y="252" width="177" height="1" fill="#00007f" fill-opacity="0.85"/><rect x="768.5" y="266" width="177" height="1" fill="#00007f"/><rect x="768.5" y="278" width="177" height="1" fill="#7cff79"/><rect x="768.5" y="279" width="177" height="1" fill="#7cff79" fill-opacity="0.65"/><rect x="768.5" y="286" width="177" height="1" fill="#00007f"/><rect x="768.5" y="298" width="177" height="1" fill="#7cff79"/><rect x="768.5" y="299" width="177" height="1" fill="#7cff79" fill-opacity="0.25"/><rect x="768.5" y="301" width="177" height="1" fill="#00007f"/><rect x="768.5" y="303" width="177" height="2" fill="#00007f"/><rect x="768.5" y="307" width="177" height="1" fill="#00007f"/><rect x="768.5" y="310" width="177" height="1" fill="#00007f"/><rect x="768.5" y="325" width="177" height="1" fill="#7cff79"/><rect x="768.5" y="326" width="177" height="1" fill="#7cff79" fill-opacity="0.6"/><rect x="768.5" y="327" width="177" height="1" fill="#7cff79"/><rect x="768.5" y="328" width="177" height="3" fill="#00007f"/><rect x="768.5" y="331" width="177" height="2" fill="#7cff79"/><rect x="768.5" y="333" width="177" height="4" fill="#00007f"/><rect x="768.5" y="338" width="177" height="1" fill="#00007f"/><rect x="768.5" y="339" width="177" height="1" fill="#7cff79"/><rect x="768.5" y="340" width="177" height="2" fill="#00007f"/><rect x="768.5" y="346" width="177" height="1" fill="#00007f"/><rect x="768.5" y="347" width="177" height="1" fill="#7cff79"/><rect x="768.5" y="348" width="177" height="1" fill="#00007f"/><rect x="768.5" y="350" width="177" height="1" fill="#00007f"/><rect x="768.5" y="351" width="177" height="2" fill="#7cff79"/><rect x="768.5" y="353" width="177" height="1" fill="#00007f" fill-opacity="0.5"/><rect x="768.5" y="354" width="177" height="1" fill="#00007f"/><rect x="768.5" y="361" width="177" height="1" fill="#00007f"/><rect x="768.5" y="367" width="177" height="1" fill="#00007f"/><rect x="768.5" y="368" width="177" height="1.3" fill="#7cff79"/><rect x="768.5" y="383" width="177" height="1" fill="#7cff79"/><rect x="768.5" y="384" width="177" height="1" fill="#7cff79" fill-opacity="0.6"/><rect x="768.5" y="385" width="177" height="2" fill="#00007f"/><rect x="768.5" y="389" width="177" height="1.8" fill="#00007f"/><rect x="768.5" y="392" width="177" height="26" fill="#00007f"/><rect x="768.5" y="419" width="177" height="4" fill="#7cff79"/><rect x="768.5" y="423" width="177" height="1.5" fill="#7cff79" fill-opacity="0.5"/><rect x="768.5" y="428" width="177" height="1" fill="#7cff79"/><rect x="768.5" y="429" width="177" height="48" fill="#00007f"/><rect x="768.5" y="483" width="177" height="1" fill="#7cff79" fill-opacity="0.85"/><rect x="768.5" y="484" width="177" height="3" fill="#7cff79" fill-opacity="0.3"/><rect x="768.5" y="487" width="177" height="1" fill="#7cff79"/><rect x="768.5" y="488" width="177" height="16" fill="#00007f"/><rect x="768.5" y="509" width="177" height="1" fill="#7cff79" fill-opacity="0.7"/><rect x="768.5" y="514" width="177" height="34" fill="#00007f"/><rect x="768.5" y="554" width="177" height="1" fill="#7cff79" fill-opacity="0.85"/><rect x="768.5" y="555" width="177" height="2" fill="#7cff79" fill-opacity="0.45"/><rect x="768.5" y="557" width="177" height="1" fill="#00007f"/><rect x="768.5" y="558" width="177" height="1" fill="#7cff79"/><rect x="768.5" y="559" width="177" height="1" fill="#00007f"/><rect x="768.5" y="560" width="177" height="1" fill="#7cff79"/><rect x="768.5" y="561" width="177" height="14" fill="#00007f"/><rect x="768.5" y="582.5" width="177" height="1" fill="#7cff79" fill-opacity="0.7"/><rect x="768.5" y="584" width="177" height="1" fill="#7cff79" fill-opacity="0.3"/><rect x="768.5" y="585" width="177" height="1" fill="#7cff79"/><rect x="768.5" y="586" width="177" height="1" fill="#7cff79" fill-opacity="0.35"/><rect x="768.5" y="587" width="177" height="2" fill="#7cff79"/><rect x="768.5" y="597" width="177" height="2" fill="#00007f"/><rect x="768.5" y="614" width="177" height="1" fill="#7cff79"/><rect x="768.5" y="623" width="177" height="1" fill="#7cff79"/><rect x="768.5" y="624" width="177" height="1.2" fill="#00007f"/><rect x="768.5" y="631" width="177" height="1" fill="#7cff79"/><rect x="768.5" y="644" width="177" height="2" fill="#00007f"/><rect x="768.5" y="654" width="177" height="5" fill="#7cff79"/><rect x="768.5" y="662" width="177" height="3.7" fill="#00007f"/><rect x="768.5" y="679" width="177" height="1" fill="#00007f"/><rect x="768.5" y="697" width="177" height="1" fill="#00007f"/><rect x="768.5" y="703" width="177" height="3" fill="#7cff79" fill-opacity="0.6"/><rect x="768.5" y="706" width="177" height="3.5" fill="#00007f"/><rect x="768.5" y="717" width="177" height="3.5" fill="#00007f"/>

<rect x="768.5" y="80.5" width="177" height="640" fill="none" stroke="#000" stroke-width="1"/>
<path d="M768.5 720.5v-4.5M768.5 80.5v4.5M809.5 720.5v-4.5M809.5 80.5v4.5M851.5 720.5v-4.5M851.5 80.5v4.5M892.5 720.5v-4.5M892.5 80.5v4.5M934.5 720.5v-4.5M934.5 80.5v4.5M768.5 720.5h4.5M945.5 720.5h-4.5M768.5 587.5h4.5M945.5 587.5h-4.5M768.5 453.5h4.5M945.5 453.5h-4.5M768.5 320.5h4.5M945.5 320.5h-4.5M768.5 187.5h4.5M945.5 187.5h-4.5" stroke="#000" stroke-width="1" fill="none"/>
<text x="768.5" y="736" font-size="11.8" text-anchor="middle">320</text><text x="809.98" y="736" font-size="11.8" text-anchor="middle">335</text><text x="851.47" y="736" font-size="11.8" text-anchor="middle">350</text><text x="892.95" y="736" font-size="11.8" text-anchor="middle">365</text><text x="934.44" y="736" font-size="11.8" text-anchor="middle">380</text><text x="763" y="723.8" font-size="11.8" text-anchor="end">0</text><text x="763" y="590.47" font-size="11.8" text-anchor="end">5</text><text x="763" y="457.13" font-size="11.8" text-anchor="end">10</text><text x="763" y="323.8" font-size="11.8" text-anchor="end">15</text><text x="763" y="190.47" font-size="11.8" text-anchor="end">20</text>
<text x="857" y="72.6" font-size="15" text-anchor="middle">YX, BL V4*V9</text>
</g>
<text x="525" y="26" font-size="12.5">2016-09-05 0.0-24.0</text>
<text x="432.5" y="753.8" font-size="12.5">frequency (MHz)</text>
<text transform="translate(100.5,400) rotate(-90)" font-size="12.5" text-anchor="middle">UT (hours)</text>
<g>
<rect x="1019.5" y="160.5" width="15" height="480" fill="url(#cb)" stroke="#000" stroke-width="1"/>
<text x="1013.1" y="603.4" font-size="10.8" text-anchor="end"><tspan letter-spacing="-1.6px">−</tspan>150</text><text x="1013.1" y="536.73" font-size="10.8" text-anchor="end"><tspan letter-spacing="-1.6px">−</tspan>100</text><text x="1013.1" y="470.07" font-size="10.8" text-anchor="end"><tspan letter-spacing="-1.6px">−</tspan>50</text><text x="1013.1" y="403.4" font-size="10.8" text-anchor="end">0</text><text x="1013.1" y="336.73" font-size="10.8" text-anchor="end">50</text><text x="1013.1" y="270.07" font-size="10.8" text-anchor="end">100</text><text x="1013.1" y="203.4" font-size="10.8" text-anchor="end">150</text>
<path d="M1019.5 600.5h6.3M1034.5 600.5h-6.3M1019.5 533.83h6.3M1034.5 533.83h-6.3M1019.5 467.17h6.3M1034.5 467.17h-6.3M1019.5 400.5h6.3M1034.5 400.5h-6.3M1019.5 333.83h6.3M1034.5 333.83h-6.3M1019.5 267.17h6.3M1034.5 267.17h-6.3M1019.5 200.5h6.3M1034.5 200.5h-6.3M1022.5 160.5v6.3M1022.5 640.5v-6.3M1025.5 160.5v6.3M1025.5 640.5v-6.3M1028.5 160.5v6.3M1028.5 640.5v-6.3M1031.5 160.5v6.3M1031.5 640.5v-6.3" stroke="#000" stroke-width="0.8" fill="none"/>
<rect x="1017" y="646" width="1" height="1" fill="#666"/><text x="1019.5" y="647" font-size=".8" text-anchor="middle" fill="#bbb" style="letter-spacing:0">0.0</text><rect x="1021" y="646" width="1" height="1" fill="#666"/><text x="1022.5" y="647" font-size=".8" text-anchor="middle" fill="#bbb" style="letter-spacing:0">0.2</text><rect x="1024" y="646" width="1" height="1" fill="#666"/><text x="1025.5" y="647" font-size=".8" text-anchor="middle" fill="#bbb" style="letter-spacing:0">0.4</text><rect x="1027" y="646" width="1" height="1" fill="#b4b4b4"/><text x="1028.5" y="647" font-size=".8" text-anchor="middle" fill="#bbb" style="letter-spacing:0">0.6</text><rect x="1030" y="646" width="1" height="1" fill="#b4b4b4"/><text x="1031.5" y="647" font-size=".8" text-anchor="middle" fill="#bbb" style="letter-spacing:0">0.8</text><rect x="1033" y="646" width="1" height="1" fill="#c4c4c4"/><text x="1034.5" y="647" font-size=".8" text-anchor="middle" fill="#bbb" style="letter-spacing:0">1.0</text>
<text transform="translate(974.2,400) rotate(-90)" font-size="12.5" text-anchor="middle">phase (deg.)</text>
</g>
</svg>
</body></html>
